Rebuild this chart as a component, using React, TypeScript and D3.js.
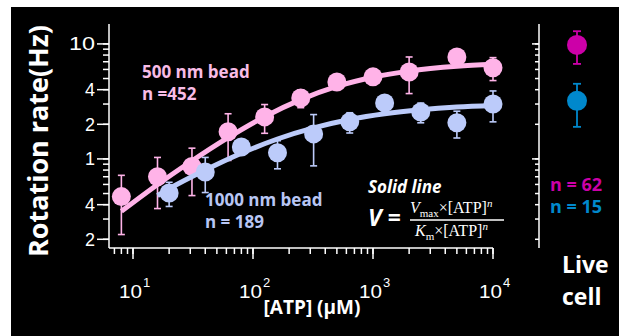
import React from 'react';
import * as d3 from 'd3';

const W = 619;
const H = 336;

// 500 nm bead (mean ± s.d.)
const atp500 = [8, 16, 31, 62, 125, 250, 500, 1000, 2000, 5000, 10000];
const rate500 = [0.47, 0.7, 0.86, 1.72, 2.32, 3.39, 4.67, 5.17, 5.7, 7.7, 6.2];
const sd500 = [0.25, 0.33, 0.38, 0.75, 0.65, 0.6, 0.4, 0.4, 2.0, 0.5, 1.4];

// 1000 nm bead
const atp1000 = [20, 40, 80, 160, 320, 640, 1250, 2500, 5000, 10000];
const rate1000 = [0.506, 0.77, 1.27, 1.13, 1.65, 2.1, 3.07, 2.56, 2.06, 3.0];
const sd1000 = [0.12, 0.26, 0.15, 0.31, 0.78, 0.42, 0.3, 0.5, 0.54, 0.9];

// fitted solid lines
const fitAtp500 = [8, 15, 30, 60, 125, 250, 500, 1000, 2000, 5000, 10000];
const fitRate500 = [0.35, 0.57, 0.94, 1.5, 2.33, 3.28, 4.27, 5.13, 5.8, 6.38, 6.64];
const fitAtp1000 = [16, 20, 40, 80, 160, 320, 640, 1250, 2500, 5000, 10000];
const fitRate1000 = [0.48, 0.55, 0.8, 1.12, 1.49, 1.86, 2.2, 2.47, 2.68, 2.83, 2.92];

// live cell
const liveRate = [9.8, 3.2];
const liveSd = [3.1, 1.3];
const liveN = [62, 15];

const yTickValues = [0.2, 0.4, 1, 2, 4, 10];
const yTickLabels = ['2', '4', '1', '2', '4', '10'];
const xTickValues = [10, 100, 1000, 10000];
const xTickExp = ['1', '2', '3', '4'];

const PINK = '#ffb3e8';
const BLUE = '#bccbfa';
const LIVE_COLORS = ['#cc00a8', '#0088cc'];

const x = d3.scaleLog().domain([Math.pow(10, 0.8), 10000]).range([109, 493]);
const y = d3.scaleLog().domain([0.168, 14.9]).range([248, 24]);
const xLive = d3.scaleBand().domain(['live']).range([539, 615]);

const SANS = '"Open Sans", "Noto Sans", sans-serif';
const ARIAL = '"Liberation Sans", Arial, sans-serif';
const SERIF = '"Liberation Serif", "DejaVu Serif", serif';

const line = d3
  .line<[number, number]>()
  .x(d => x(d[0]))
  .y(d => y(d[1]))
  .curve(d3.curveMonotoneX);

function ErrorDots({ xs, ys, sds, color, r }: { xs: number[]; ys: number[]; sds: number[]; color: string; r: number }) {
  return (
    <g>
      {xs.map((v, i) => {
        const cx = x(v);
        const lo = Math.max(ys[i] - sds[i], 0.17);
        const hi = ys[i] + sds[i];
        return (
          <g key={i} stroke={color} strokeWidth={1.6}>
            <line x1={cx} x2={cx} y1={y(hi)} y2={y(lo)} />
            <line x1={cx - 3.5} x2={cx + 3.5} y1={y(hi)} y2={y(hi)} />
            <line x1={cx - 3.5} x2={cx + 3.5} y1={y(lo)} y2={y(lo)} />
            <circle cx={cx} cy={y(ys[i])} r={r} fill={color} stroke="none" />
          </g>
        );
      })}
    </g>
  );
}

export default function App() {
  const minorY = y.ticks();
  const minorX = x.ticks();
  const liveCx = (xLive('live') ?? 0) + xLive.bandwidth() / 2;

  return (
    <svg width={W} height={H} style={{ position: 'absolute', left: 0, top: 0, display: 'block' }}>
      <rect x={0} y={0} width={W} height={H} fill="#fff" />
      <rect x={11} y={7} width={W - 11} height={H - 7} fill="#000" />

      {/* axes */}
      <g stroke="#fff" strokeWidth={1.5}>
        <line x1={109} x2={109} y1={24} y2={248} />
        <line x1={109} x2={493} y1={248} y2={248} />
        {minorY.map((t, i) => (
          <line key={'ym' + i} x1={103} x2={109} y1={y(t)} y2={y(t)} />
        ))}
        {yTickValues.map((t, i) => (
          <line key={'yM' + i} x1={97} x2={109} y1={y(t)} y2={y(t)} />
        ))}
        {minorX.map((t, i) => (
          <line key={'xm' + i} x1={x(t)} x2={x(t)} y1={248} y2={254} />
        ))}
        {xTickValues.map((t, i) => (
          <line key={'xM' + i} x1={x(t)} x2={x(t)} y1={248} y2={259} />
        ))}
        {/* live cell axis */}
        <line x1={539} x2={539} y1={24} y2={248} />
        {minorY.map((t, i) => (
          <line key={'lm' + i} x1={535} x2={539} y1={y(t)} y2={y(t)} />
        ))}
        {[1, 10].map((t, i) => (
          <line key={'lM' + i} x1={532} x2={539} y1={y(t)} y2={y(t)} />
        ))}
      </g>

      <g fill="#fff" fontFamily={ARIAL} fontSize={18}>
        {yTickValues.map((t, i) => (
          <text
            key={i}
            x={95}
            y={y(t) + 6.5}
            textAnchor="end"
            textLength={yTickLabels[i].length > 1 ? 26 : undefined}
            lengthAdjust="spacingAndGlyphs"
          >
            {yTickLabels[i]}
          </text>
        ))}
        {xTickValues.map((t, i) => (
          <g key={i}>
            <text x={x(t) - 14} y={298} textLength={23} lengthAdjust="spacingAndGlyphs">10</text>
            <text x={x(t) + 10} y={287} fontSize={13}>{xTickExp[i]}</text>
          </g>
        ))}
      </g>

      <text
        transform="translate(48,141) rotate(-90)"
        textAnchor="middle"
        fill="#fff"
        fontFamily={SANS}
        fontWeight={700}
        fontSize={26}
        textLength={232}
        lengthAdjust="spacingAndGlyphs"
      >
        Rotation rate(Hz)
      </text>
      <text x={312} y={314} textAnchor="middle" fill="#fff" fontFamily={SANS} fontWeight={700} fontSize={19}>
        [ATP] (μM)
      </text>

      {/* fitted lines and data */}
      <path d={line(fitAtp500.map((a, i) => [a, fitRate500[i]] as [number, number])) ?? ''} fill="none" stroke={PINK} strokeWidth={5} />
      <ErrorDots xs={atp500} ys={rate500} sds={sd500} color={PINK} r={9.5} />
      <path d={line(fitAtp1000.map((a, i) => [a, fitRate1000[i]] as [number, number])) ?? ''} fill="none" stroke={BLUE} strokeWidth={5} />
      <ErrorDots xs={atp1000} ys={rate1000} sds={sd1000} color={BLUE} r={9.5} />

      {/* live cell */}
      {liveRate.map((v, i) => (
        <g key={i} stroke={LIVE_COLORS[i]} strokeWidth={1.8}>
          <line x1={liveCx} x2={liveCx} y1={y(v + liveSd[i])} y2={y(v - liveSd[i])} />
          <line x1={liveCx - 4} x2={liveCx + 4} y1={y(v + liveSd[i])} y2={y(v + liveSd[i])} />
          <line x1={liveCx - 4} x2={liveCx + 4} y1={y(v - liveSd[i])} y2={y(v - liveSd[i])} />
          <circle cx={liveCx} cy={y(v)} r={10} fill={LIVE_COLORS[i]} stroke="none" />
        </g>
      ))}

      <g fontFamily={SANS} fontWeight={700} fontSize={17}>
        <text x={142} y={78} fill="#f8bce6">500 nm bead</text>
        <text x={142} y={100} fill="#f8bce6">n =452</text>
        <text x={205} y={206} fill="#b8c6f4">1000 nm bead</text>
        <text x={205} y={228} fill="#b8c6f4">n = 189</text>
        {liveN.map((n, i) => (
          <text key={i} x={550} y={191 + i * 22} fill={LIVE_COLORS[i]} fontSize={18}>
            n = {n}
          </text>
        ))}
        <text x={562} y={273} fill="#fff" fontSize={23}>Live</text>
        <text x={562} y={305} fill="#fff" fontSize={23}>cell</text>
        <text x={368} y={193} fill="#fff" fontStyle="italic">Solid line</text>
        <text x={368} y={226} fill="#fff" fontStyle="italic" fontSize={23}>V =</text>
      </g>

      {/* Hill equation */}
      <g fill="#fff" fontFamily={SERIF} fontSize={16}>
        <text x={410} y={213}>
          <tspan fontStyle="italic">V</tspan>
          <tspan dy={4} fontSize={11}>max</tspan>
          <tspan dy={-4}>×[ATP]</tspan>
          <tspan dy={-6} fontSize={11} fontStyle="italic">n</tspan>
        </text>
        <line x1={410} x2={504} y1={220} y2={220} stroke="#fff" strokeWidth={1.3} />
        <text x={415} y={236}>
          <tspan fontStyle="italic">K</tspan>
          <tspan dy={4} fontSize={11}>m</tspan>
          <tspan dy={-4}>×[ATP]</tspan>
          <tspan dy={-6} fontSize={11} fontStyle="italic">n</tspan>
        </text>
      </g>
    </svg>
  );
}
